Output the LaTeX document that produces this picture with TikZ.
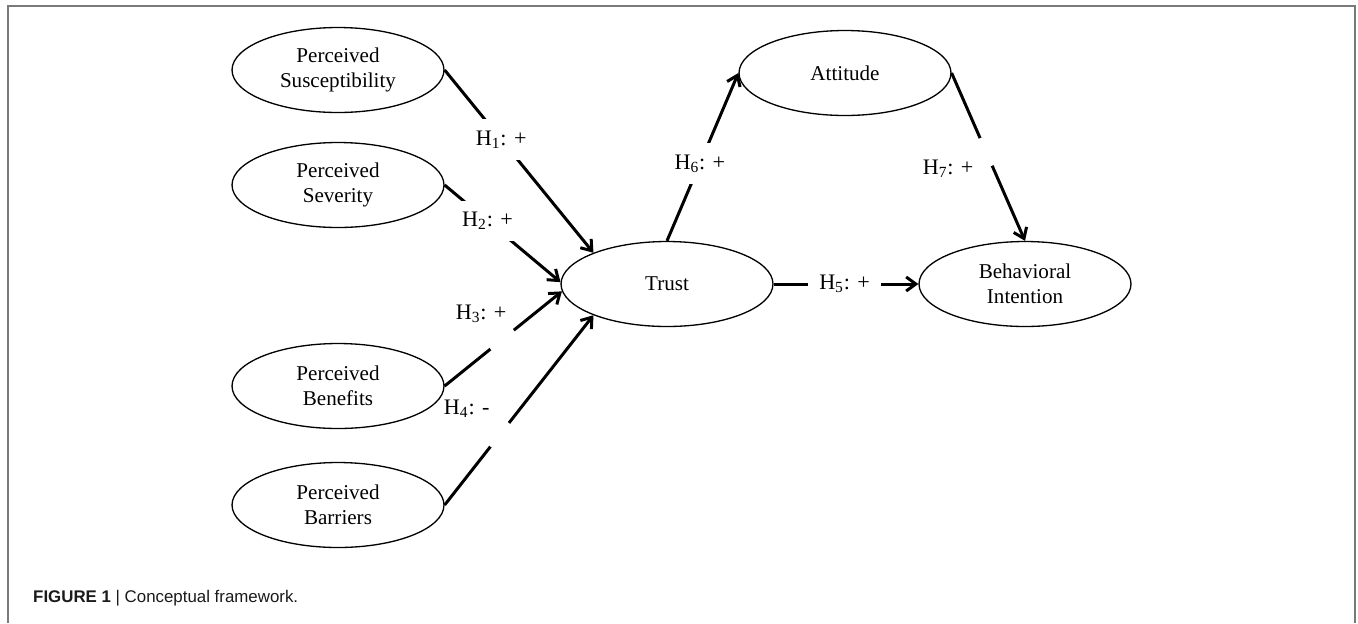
\documentclass[tikz,border=0pt]{standalone}
\usepackage{fontspec}
\setmainfont{Liberation Serif}
\newfontfamily\captionfont{Liberation Sans}
\usepackage{tikz}
\usetikzlibrary{shapes.geometric, arrows.meta, positioning, calc}
\usepackage{xcolor}
\definecolor{framegray}{HTML}{7A7A7A}
\definecolor{captext}{HTML}{1A1A1A}

\begin{document}
\begin{tikzpicture}[
  x=0.02cm, y=-0.02cm,
  construct/.style={ellipse, draw, line width=0.75pt, minimum width=4.24cm,
    minimum height=1.7cm, inner sep=0pt, align=center,
    font=\fontsize{12}{14.2}\selectfont},
  hyp/.style={fill=white, inner sep=6.5pt, font=\fontsize{12.6}{15}\selectfont},
  hypside/.style={inner sep=1pt, font=\fontsize{12.6}{15}\selectfont},
  cut/.style={circle, fill=white, minimum size=0.6cm, inner sep=0pt},
  arr/.style={-{Straight Barb[length=5.5pt, width=8pt]}, line width=1.7pt},
]
  \useasboundingbox (0,0) rectangle (1358,623);
  \draw[framegray, line width=1pt] (8,623) |- (1355,6) -- (1355,623);

  % constructs
  \node[construct] (susc) at (338,70) {Perceived\\Susceptibility};
  \node[construct] (sever) at (338,185) {Perceived\\Severity};
  \node[construct] (benef) at (338,386) {Perceived\\Benefits};
  \node[construct] (barr) at (338,505) {Perceived\\Barriers};
  \node[construct] (trust) at (667,284) {Trust};
  \node[construct] (attit) at (845,73) {Attitude};
  \node[construct] (behav) at (1025,284) {Behavioral\\Intention};

  % hypotheses
  \draw[arr] (susc.east) -- node[hyp, pos=.38] {H\textsubscript{1}: +} (trust.157);
  \draw[arr] (sever.east) -- node[hyp, pos=.37] {H\textsubscript{2}: +} (trust.179);
  \draw[arr] (benef.east) -- node[cut, pos=.49] (g3) {} (trust.184);
  \node[hypside] at ($(g3)+(-21,-26)$) {H\textsubscript{3}: +};
  \draw[arr] (barr.east) -- node[cut, pos=.37] (g4) {} (trust.203);
  \node[hypside] at ($(g4)+(-33,-26)$) {H\textsubscript{4}: -};
  \draw[arr] (trust.east) -- node[hyp, pos=.49] {H\textsubscript{5}: +} (behav.west);
  \draw[arr] (trust.north) -- node[hyp, pos=.46] {H\textsubscript{6}: +} (attit.west);
  \draw[arr] (attit.east) -- node[cut, pos=.47] (g7) {} (behav.north);
  \node[hypside] at ($(g7)+(-38,17)$) {H\textsubscript{7}: +};

  \node[anchor=base west, text=captext, font=\captionfont\fontsize{9.6}{11}\selectfont]
    (caption) at (27,602) {\textbf{FIGURE 1} | Conceptual framework.};
\end{tikzpicture}
\end{document}
